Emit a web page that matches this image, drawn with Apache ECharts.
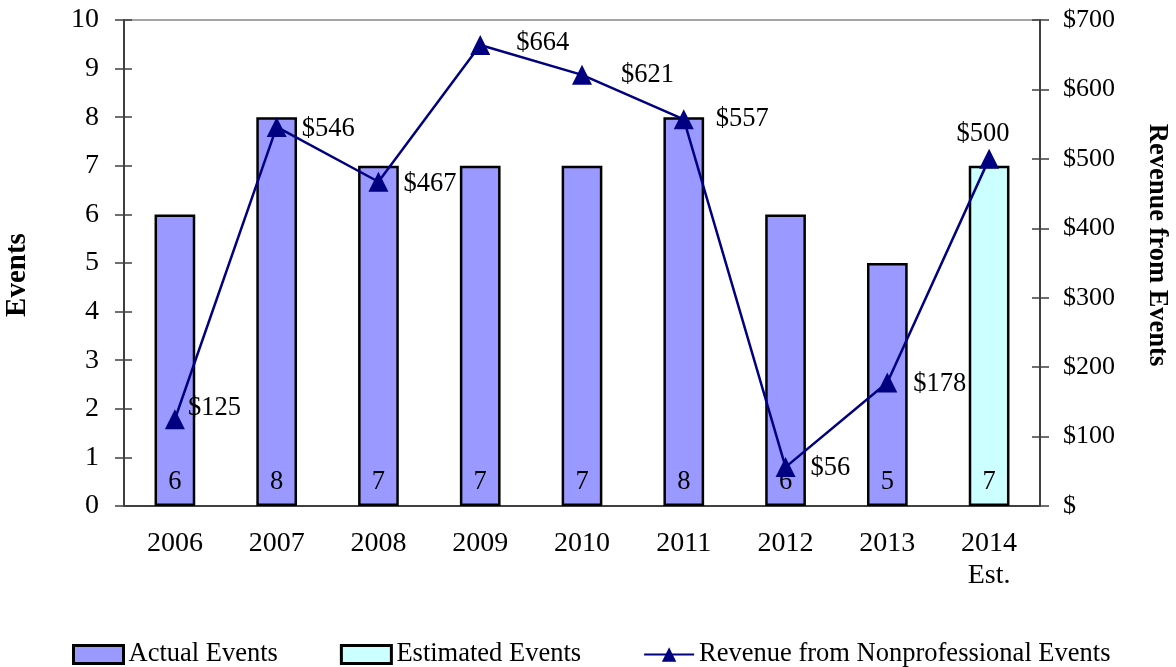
<!DOCTYPE html>
<html><head><meta charset="utf-8">
<script src="https://cdn.jsdelivr.net/npm/echarts@6/dist/echarts.min.js"></script>
<style>html,body{margin:0;padding:0;background:#fff}#c{width:1176px;height:667px}</style>
</head><body><div id="c"></div>
<script>
var categories = ['2006','2007','2008','2009','2010','2011','2012','2013','2014\nEst.'];
var actualEvents = [6,8,7,7,7,8,6,5,null];
var estimatedEvents = [null,null,null,null,null,null,null,null,7];
var revenue = [125,546,467,664,621,557,56,178,500];
var leftTicks = [0,10,1];
var rightTicks = [0,700,100];

var F = '"Liberation Serif","DejaVu Serif",serif';
var navy = '#000080';

var labelTweaks = {
  0: {position:'right', offset:[-2,-11]},
  1: {position:'right', offset:[10,2]},
  2: {position:'right', offset:[10,2]},
  3: {position:'right', offset:[21,-2]},
  4: {position:'right', offset:[24,0]},
  5: {position:'right', offset:[17,0]},
  6: {position:'right', offset:[10,1]},
  7: {position:'right', offset:[11,2]},
  8: {position:'top', offset:[-6,4]}
};
var revData = revenue.map(function(v,i){
  return {value:v, label: labelTweaks[i] || {}};
});

var chart = echarts.init(document.getElementById('c'));
chart.setOption({
  animation:false,
  textStyle:{fontFamily:F},
  grid:{left:124,right:136,top:20,bottom:161,show:true,borderColor:'#888',borderWidth:1.5,containLabel:false,outerBoundsMode:'none'},
  legend:{
    left:67, top:636, itemWidth:50, itemHeight:18, itemGap:62,
    textStyle:{fontFamily:F,fontSize:26.5,color:'#000'},
    data:[
      {name:'Actual Events', icon:'rect', itemStyle:{borderWidth:3}},
      {name:'Estimated Events', icon:'rect', itemStyle:{borderWidth:3}},
      {name:'Revenue from Nonprofessional Events'}
    ]
  },
  xAxis:[{
    type:'category', data:categories,
    axisLine:{lineStyle:{color:'#404040',width:2}},
    axisTick:{length:8,lineStyle:{color:'#404040',width:1.5}},
    axisLabel:{fontFamily:F,fontSize:28,color:'#000',margin:22,lineHeight:32}
  },{
    type:'category', data:categories, position:'bottom',
    axisLine:{show:false},
    axisTick:{inside:true,length:8,lineStyle:{color:'#404040',width:1.5}},
    axisLabel:{show:false}
  }],
  yAxis:[{
    type:'value', min:leftTicks[0], max:leftTicks[1], interval:leftTicks[2],
    name:'Events', nameLocation:'middle', nameGap:92, nameRotate:90,
    nameTextStyle:{fontFamily:F,fontSize:29,fontWeight:'bold',color:'#000',padding:[0,24,0,0]},
    axisLine:{show:true,lineStyle:{color:'#404040',width:2}},
    axisTick:{show:true,length:9,lineStyle:{color:'#404040',width:1.5}},
    axisLabel:{fontFamily:F,fontSize:28,color:'#000',margin:25},
    splitLine:{show:false}
  },{
    type:'value', min:rightTicks[0], max:rightTicks[1], interval:rightTicks[2], position:'right',
    name:'Revenue from Events', nameLocation:'middle', nameGap:103, nameRotate:-90,
    nameTextStyle:{fontFamily:F,fontSize:26.5,fontWeight:'bold',color:'#000',padding:[0,36,0,0]},
    axisLine:{show:true,lineStyle:{color:'#404040',width:2}},
    axisTick:{show:true,length:9,lineStyle:{color:'#404040',width:1.5}},
    axisLabel:{fontFamily:F,fontSize:26,color:'#000',margin:23,
      formatter:function(v){return v===0?'$':'$'+v;}},
    splitLine:{show:false}
  },{
    type:'value', min:leftTicks[0], max:leftTicks[1], interval:leftTicks[2], position:'left',
    axisLine:{show:false}, axisLabel:{show:false}, splitLine:{show:false},
    axisTick:{show:true,inside:true,length:8,lineStyle:{color:'#404040',width:1.5}}
  },{
    type:'value', min:rightTicks[0], max:rightTicks[1], interval:rightTicks[2], position:'right',
    axisLine:{show:false}, axisLabel:{show:false}, splitLine:{show:false},
    axisTick:{show:true,inside:true,length:8,lineStyle:{color:'#404040',width:1.5}}
  }],
  series:[{
    name:'Actual Events', type:'bar', stack:'ev', barWidth:'40%',
    data:actualEvents,
    itemStyle:{color:'#9999FF',borderColor:'#000',borderWidth:2.5},
    label:{show:true,position:'insideBottom',distance:10,fontFamily:F,fontSize:26.5,color:'#000'}
  },{
    name:'Estimated Events', type:'bar', stack:'ev', barWidth:'40%',
    data:estimatedEvents,
    itemStyle:{color:'#CCFFFF',borderColor:'#000',borderWidth:2.5},
    label:{show:true,position:'insideBottom',distance:10,fontFamily:F,fontSize:26.5,color:'#000'}
  },{
    name:'Revenue from Nonprofessional Events', type:'line', yAxisIndex:1,
    data:revData, symbol:'triangle', symbolSize:20,
    lineStyle:{color:navy,width:2.5}, itemStyle:{color:navy},
    label:{show:true,position:'right',fontFamily:F,fontSize:26.5,color:'#000',
      formatter:function(p){return '$'+p.value;}},
    z:5
  }]
});
</script></body></html>
